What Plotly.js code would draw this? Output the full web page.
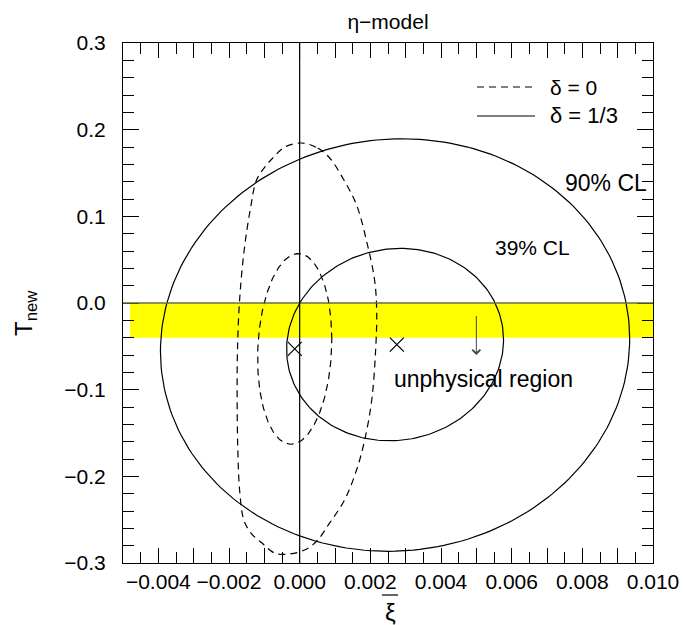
<!DOCTYPE html>
<html>
<head>
<meta charset="utf-8">
<script src="https://cdn.plot.ly/plotly-3.0.1.min.js"></script>
<style>html,body{margin:0;padding:0;background:#fff;}#chart{width:683px;height:625px;}</style>
</head>
<body>
<div id="chart"></div>
<script>
// Elliptical contours: centre, half-widths, tilt (correlation)
const ellipseNames = ["δ=1/3, 90% CL", "δ=1/3, 39% CL", "δ=0, 39% CL"];
const ellipseDash  = ["solid", "solid", "dash"];
const centerX = [0.0027, 0.0027, -0.00014];
const centerY = [-0.0485, -0.048, -0.053];
const halfX   = [0.00664, 0.00307, 0.00105];
const halfY   = [0.238, 0.111, 0.110];
const tilt    = [0.03, 0.05, 0.10];

// δ=0, 90% CL contour (not a clean ellipse)
const outerDashX = [0.00006, 0.00051, 0.00085, 0.00122, 0.00161, 0.00192, 0.00212, 0.00218, 0.00215, 0.00204,
  0.00184, 0.00161, 0.00127, 0.00085, 0.00051, 0.00020, -0.00028, -0.00071, -0.00105, -0.00138,
  -0.00158, -0.00170, -0.00175, -0.00177, -0.00176, -0.00170, -0.00157, -0.00140, -0.00122, -0.00096,
  -0.00076, -0.00042, 0.00006];
const outerDashY = [0.1846, 0.1788, 0.1673, 0.1442, 0.1131, 0.0669, 0.0265, -0.0081, -0.0542, -0.1119,
  -0.1581, -0.1927, -0.2273, -0.2538, -0.2735, -0.2838, -0.2896, -0.2885, -0.2775, -0.2654,
  -0.2504, -0.2158, -0.1696, -0.1119, -0.0542, 0.0035, 0.0612, 0.1073, 0.1419, 0.1581,
  0.1673, 0.1800, 0.1846];

// Best-fit points
const bestX = [0.00275, -0.00014];
const bestY = [-0.048, -0.053];

// Unphysical band
const bandX = [-0.0048, 0.010];
const bandY = [-0.04, 0.0];
const arrowX = 0.005, arrowY = [0.0, -0.06];

const yTickVals = [-0.3,-0.2,-0.1,0,0.1,0.2,0.3];
const yTickText = ["−0.3","−0.2","−0.1","0.0","0.1","0.2","0.3"];

const font = "Liberation Sans, Arial, Helvetica, sans-serif";
const dashStyle = "7px,5px";

const traces = [];
const N = 240;
for (let k = 0; k < ellipseNames.length; k++) {
  const xs = [], ys = [];
  const s = Math.sqrt(1 - tilt[k]*tilt[k]);
  for (let i = 0; i <= N; i++) {
    const t = 2*Math.PI*i/N;
    xs.push(centerX[k] + halfX[k]*Math.cos(t));
    ys.push(centerY[k] + halfY[k]*(tilt[k]*Math.cos(t) + s*Math.sin(t)));
  }
  traces.push({x: xs, y: ys, mode: "lines", name: ellipseNames[k], showlegend: false,
    line: {color: "black", width: 1.2, dash: ellipseDash[k] === "dash" ? dashStyle : "solid"},
    hoverinfo: "skip"});
}
traces.push({x: outerDashX, y: outerDashY, mode: "lines", name: "δ=0, 90% CL", showlegend: false,
  line: {color: "black", width: 1.2, dash: dashStyle, shape: "spline", smoothing: 1}});
traces.push({x: bestX, y: bestY, mode: "markers", showlegend: false,
  marker: {symbol: "x-thin-open", size: 14, color: "black", line: {color: "black", width: 1.2}}});

const layout = {
  width: 683, height: 625,
  margin: {l: 123, r: 30, t: 43, b: 62},
  paper_bgcolor: "white", plot_bgcolor: "white",
  showlegend: false,
  font: {family: font, size: 21, color: "black"},
  title: {text: "η−model", x: 0.5, xref: "paper", y: 12, yref: "container", yanchor: "middle",
    font: {family: font, size: 21, color: "black"}},
  xaxis: {range: [-0.005, 0.010], tickmode: "linear", tick0: 0, dtick: 0.001, ticklabelstep: 2,
    tickformat: ".3f",
    ticks: "inside", ticklen: 15, tickwidth: 1, tickcolor: "black",
    minor: {dtick: 0.0005, tick0: -0.0045, ticks: "inside", ticklen: 11, tickwidth: 1, tickcolor: "black", showgrid: false},
    showline: true, linecolor: "black", linewidth: 1, mirror: "ticks",
    showgrid: false, zeroline: false, ticklabelstandoff: 0,
    tickfont: {family: font, size: 21, color: "black"}},
  yaxis: {range: [-0.3, 0.3], tickmode: "array", tickvals: yTickVals, ticktext: yTickText,
    ticks: "inside", ticklen: 16, tickwidth: 1, tickcolor: "black",
    minor: {dtick: 0.02, tick0: 0, ticks: "inside", ticklen: 11, tickwidth: 1, tickcolor: "black", showgrid: false},
    showline: true, linecolor: "black", linewidth: 1, mirror: "ticks",
    showgrid: false, zeroline: false, ticklabelstandoff: 12,
    tickfont: {family: font, size: 21, color: "black"}},
  shapes: [
    {type: "rect", xref: "x", yref: "y", x0: bandX[0], x1: bandX[1], y0: bandY[0], y1: bandY[1],
      fillcolor: "#ffff00", line: {width: 0}, layer: "below"},
    {type: "line", xref: "paper", yref: "y", x0: 0, x1: 1, y0: 0, y1: 0,
      line: {color: "#6e6e38", width: 1.3}},
    {type: "line", xref: "x", yref: "paper", x0: 0, x1: 0, y0: 0, y1: 1,
      line: {color: "black", width: 1.2}},
    // legend samples
    {type: "line", xref: "paper", yref: "paper", x0: (477-123)/530, x1: (535-123)/530,
      y0: (563-87)/520, y1: (563-87)/520, line: {color: "black", width: 1.2, dash: dashStyle}},
    {type: "line", xref: "paper", yref: "paper", x0: (477-123)/530, x1: (535-123)/530,
      y0: (563-116)/520, y1: (563-116)/520, line: {color: "black", width: 1.2}},
    // overline of the x title
    {type: "line", xref: "paper", yref: "paper", x0: (382-123)/530, x1: (398-123)/530,
      y0: (563-595)/520, y1: (563-595)/520, line: {color: "black", width: 1.2}}
  ],
  annotations: [
    {xref: "x", yref: "y", x: arrowX, y: arrowY[1], ax: arrowX, ay: arrowY[0], axref: "x", ayref: "y",
      showarrow: true, arrowhead: 4, arrowsize: 1.6, arrowwidth: 1, arrowcolor: "#444", text: " "},
    {xref: "x", yref: "y", x: 0.00868, y: 0.1385, text: "90% CL", showarrow: false,
      font: {family: font, size: 23, color: "black"}},
    {xref: "x", yref: "y", x: 0.0066, y: 0.0646, text: "39% CL", showarrow: false,
      font: {family: font, size: 21, color: "black"}},
    {xref: "x", yref: "y", x: 0.0052, y: -0.0877, text: "unphysical region", showarrow: false,
      font: {family: font, size: 23, color: "black"}},
    {xref: "paper", yref: "paper", x: (548-123)/530, y: (563-87)/520, xanchor: "left", yanchor: "middle",
      text: "δ = 0", showarrow: false, font: {family: font, size: 21, color: "black"}},
    {xref: "paper", yref: "paper", x: (548-123)/530, y: (563-116)/520, xanchor: "left", yanchor: "middle",
      text: "δ = 1/3", showarrow: false, font: {family: font, size: 22, color: "black"}},
    // axis titles
    {xref: "paper", yref: "paper", x: (390-123)/530, y: (563-612)/520, xanchor: "center", yanchor: "middle",
      text: "ξ", showarrow: false, font: {family: font, size: 24, color: "black"}},
    {xref: "paper", yref: "paper", x: (26-123)/530, y: (563-313)/520, xanchor: "center", yanchor: "middle",
      textangle: -90, text: "T<sub>new</sub>", showarrow: false, font: {family: font, size: 24, color: "black"}}
  ]
};

Plotly.newPlot("chart", traces, layout, {displayModeBar: false, staticPlot: true});
</script>
</body>
</html>
